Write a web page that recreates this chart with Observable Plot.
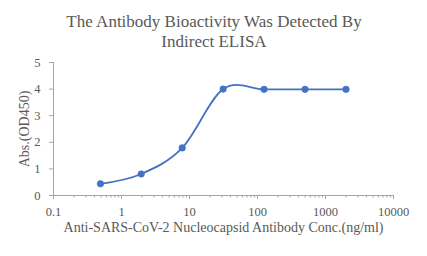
<!DOCTYPE html>
<html>
<head>
<meta charset="utf-8">
<script src="https://cdn.jsdelivr.net/npm/d3@7"></script>
<script src="https://cdn.jsdelivr.net/npm/@observablehq/plot@0.6"></script>
<style>
  html, body { margin: 0; padding: 0; background: #fff; }
</style>
</head>
<body>
<div id="chart"></div>
<script>
const titleLines = ["The Antibody Bioactivity Was Detected By", "Indirect ELISA"];
const xLabel = "Anti-SARS-CoV-2 Nucleocapsid Antibody Conc.(ng/ml)";
const yLabel = "Abs.(OD450)";
const concentrations = [0.49, 1.95, 7.81, 31.25, 125, 500, 2000];
const absorbance = [0.44, 0.81, 1.79, 4.0, 3.99, 3.99, 3.99];
const xMajorTicks = [0.1, 1, 10, 100, 1000, 10000];
const yTicks = [0, 1, 2, 3, 4, 5];

const data = concentrations.map((c, i) => ({conc: c, abs: absorbance[i]}));
const xMinorTicks = [];
for (let d = 0; d < xMajorTicks.length - 1; d++) {
  for (let m = 2; m <= 9; m++) xMinorTicks.push(xMajorTicks[d] * m);
}

const serif = "'Liberation Serif', 'Times New Roman', serif";
const textGray = "#595959";
const axisGray = "#a6a6a6";
const blue = "#4472C4";

const chart = Plot.plot({
  width: 427,
  height: 256,
  marginLeft: 53,
  marginRight: 34,
  marginTop: 62,
  marginBottom: 61,
  style: {fontFamily: serif, background: "#fff", color: textGray},
  x: {type: "log", domain: [0.1, 10000]},
  y: {domain: [0, 5]},
  marks: [
    Plot.ruleY([0], {stroke: axisGray, strokeWidth: 1}),
    Plot.ruleX([0.1], {stroke: axisGray, strokeWidth: 1}),
    Plot.axisX({ticks: xMinorTicks, tickSize: 2.5, stroke: axisGray, text: null, label: null}),
    Plot.axisX({ticks: xMajorTicks, tickSize: 4, tickPadding: 8, stroke: axisGray, fill: textGray, fontSize: 12.5, fontFamily: serif, tickFormat: d => String(d), label: null}),
    Plot.axisY({ticks: yTicks, tickSize: 4, tickPadding: 9, stroke: axisGray, fill: textGray, fontSize: 12.5, fontFamily: serif, tickFormat: d => String(d), label: null}),
    Plot.line(data, {x: "conc", y: "abs", stroke: blue, strokeWidth: 1.8, curve: "cardinal", tension: 0}),
    Plot.dot(data, {x: "conc", y: "abs", r: 3.3, fill: blue, stroke: blue, strokeWidth: 0.5}),
    Plot.text([yLabel], {frameAnchor: "left", textAnchor: "middle", lineAnchor: "middle", rotate: -90, dx: -29, fontSize: 14, fontFamily: serif, fill: textGray}),
    Plot.text([xLabel], {frameAnchor: "bottom", dy: 36, fontSize: 14, fontFamily: serif, fill: textGray}),
    Plot.text([titleLines[0]], {frameAnchor: "top", dx: -9.5, dy: -48, fontSize: 17, fontFamily: serif, fill: textGray}),
    Plot.text([titleLines[1]], {frameAnchor: "top", dx: -9.5, dy: -28, fontSize: 17, fontFamily: serif, fill: textGray})
  ]
});
document.getElementById("chart").append(chart);
</script>
</body>
</html>
